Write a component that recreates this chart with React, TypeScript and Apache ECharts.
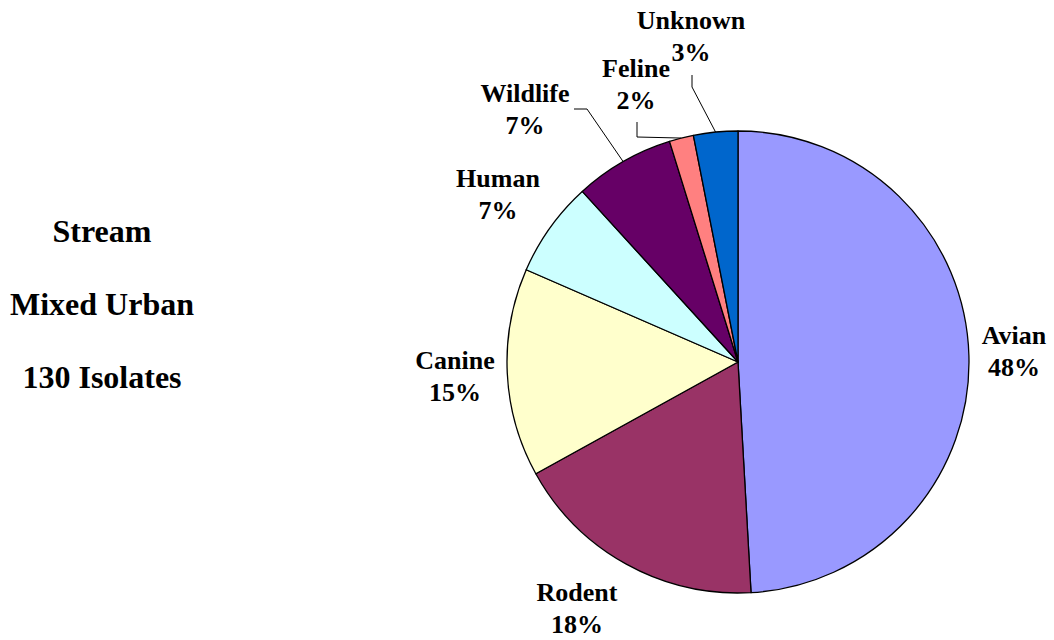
import React, { useEffect, useRef } from "react";
import * as echarts from "echarts";

const categories = ["Avian", "Rodent", "Canine", "Human", "Wildlife", "Feline", "Unknown"];
// slice shares (percent of the whole)
const shares = [49.2, 17.9, 14.6, 6.7, 7.0, 1.7, 3.1];
// percentage labels as printed on the chart
const percentLabels = ["48%", "18%", "15%", "7%", "7%", "2%", "3%"];
const colors = ["#9999FF", "#993366", "#FFFFCC", "#CCFFFF", "#660066", "#FF8080", "#0066CC"];
const titleLines = ["Stream", "Mixed Urban", "130 Isolates"];

// label placement (layout, not data)
const labelPos: Record<string, { x: number; y: number }> = {
  Avian: { x: 1014, y: 351 },
  Rodent: { x: 577, y: 608 },
  Canine: { x: 455, y: 376 },
  Human: { x: 498, y: 194 },
  Wildlife: { x: 525, y: 109 },
  Feline: { x: 636, y: 84 },
  Unknown: { x: 691, y: 36 },
};
const leaderBends: Record<string, number[][]> = {
  Unknown: [[692, 87], [692, 75]],
  Feline: [[637, 137], [637, 122]],
  Wildlife: [[587, 109], [574, 109]],
};

export default function App() {
  const ref = useRef<HTMLDivElement>(null);
  useEffect(() => {
    if (!ref.current) return;
    const chart = echarts.init(ref.current, null, { renderer: "svg" });
    const font = "Liberation Serif";
    chart.setOption({
      animation: false,
      backgroundColor: "#ffffff",
      graphic: [
        {
          type: "text",
          x: 102,
          y: 304,
          style: {
            text: titleLines.join("\n"),
            align: "center",
            verticalAlign: "middle",
            lineHeight: 73,
            fontFamily: font,
            fontWeight: "bold",
            fontSize: 32,
            fill: "#000",
          },
        },
      ],
      series: [
        {
          type: "pie",
          center: [738, 362],
          radius: 231,
          startAngle: 90,
          clockwise: true,
          avoidLabelOverlap: false,
          itemStyle: { borderColor: "#000", borderWidth: 1.3 },
          label: {
            show: true,
            position: "outside",
            fontFamily: font,
            fontWeight: "bold",
            fontSize: 26,
            lineHeight: 32,
            color: "#000",
            align: "center",
            formatter: (p: any) => `${p.name}\n${percentLabels[p.dataIndex]}`,
          },
          labelLine: {
            show: true,
            length: 10,
            length2: 10,
            smooth: false,
            lineStyle: { color: "#000", width: 1 },
          },
          emphasis: { disabled: true },
          labelLayout: (params: any) => {
            const name = categories[params.dataIndex];
            const p = labelPos[name];
            const out: any = { x: p.x, y: p.y, align: "center", verticalAlign: "middle" };
            const bends = leaderBends[name];
            if (bends && params.labelLinePoints) {
              out.labelLinePoints = [params.labelLinePoints[0], ...bends];
            }
            return out;
          },
          data: categories.map((name, i) => ({
            name,
            value: shares[i],
            itemStyle: { color: colors[i] },
            labelLine: { show: !!leaderBends[name] },
          })),
        },
      ],
    });
    return () => chart.dispose();
  }, []);
  return (
    <div
      ref={ref}
      style={{ position: "fixed", left: 0, top: 0, width: 1054, height: 640, background: "#fff" }}
    />
  );
}
